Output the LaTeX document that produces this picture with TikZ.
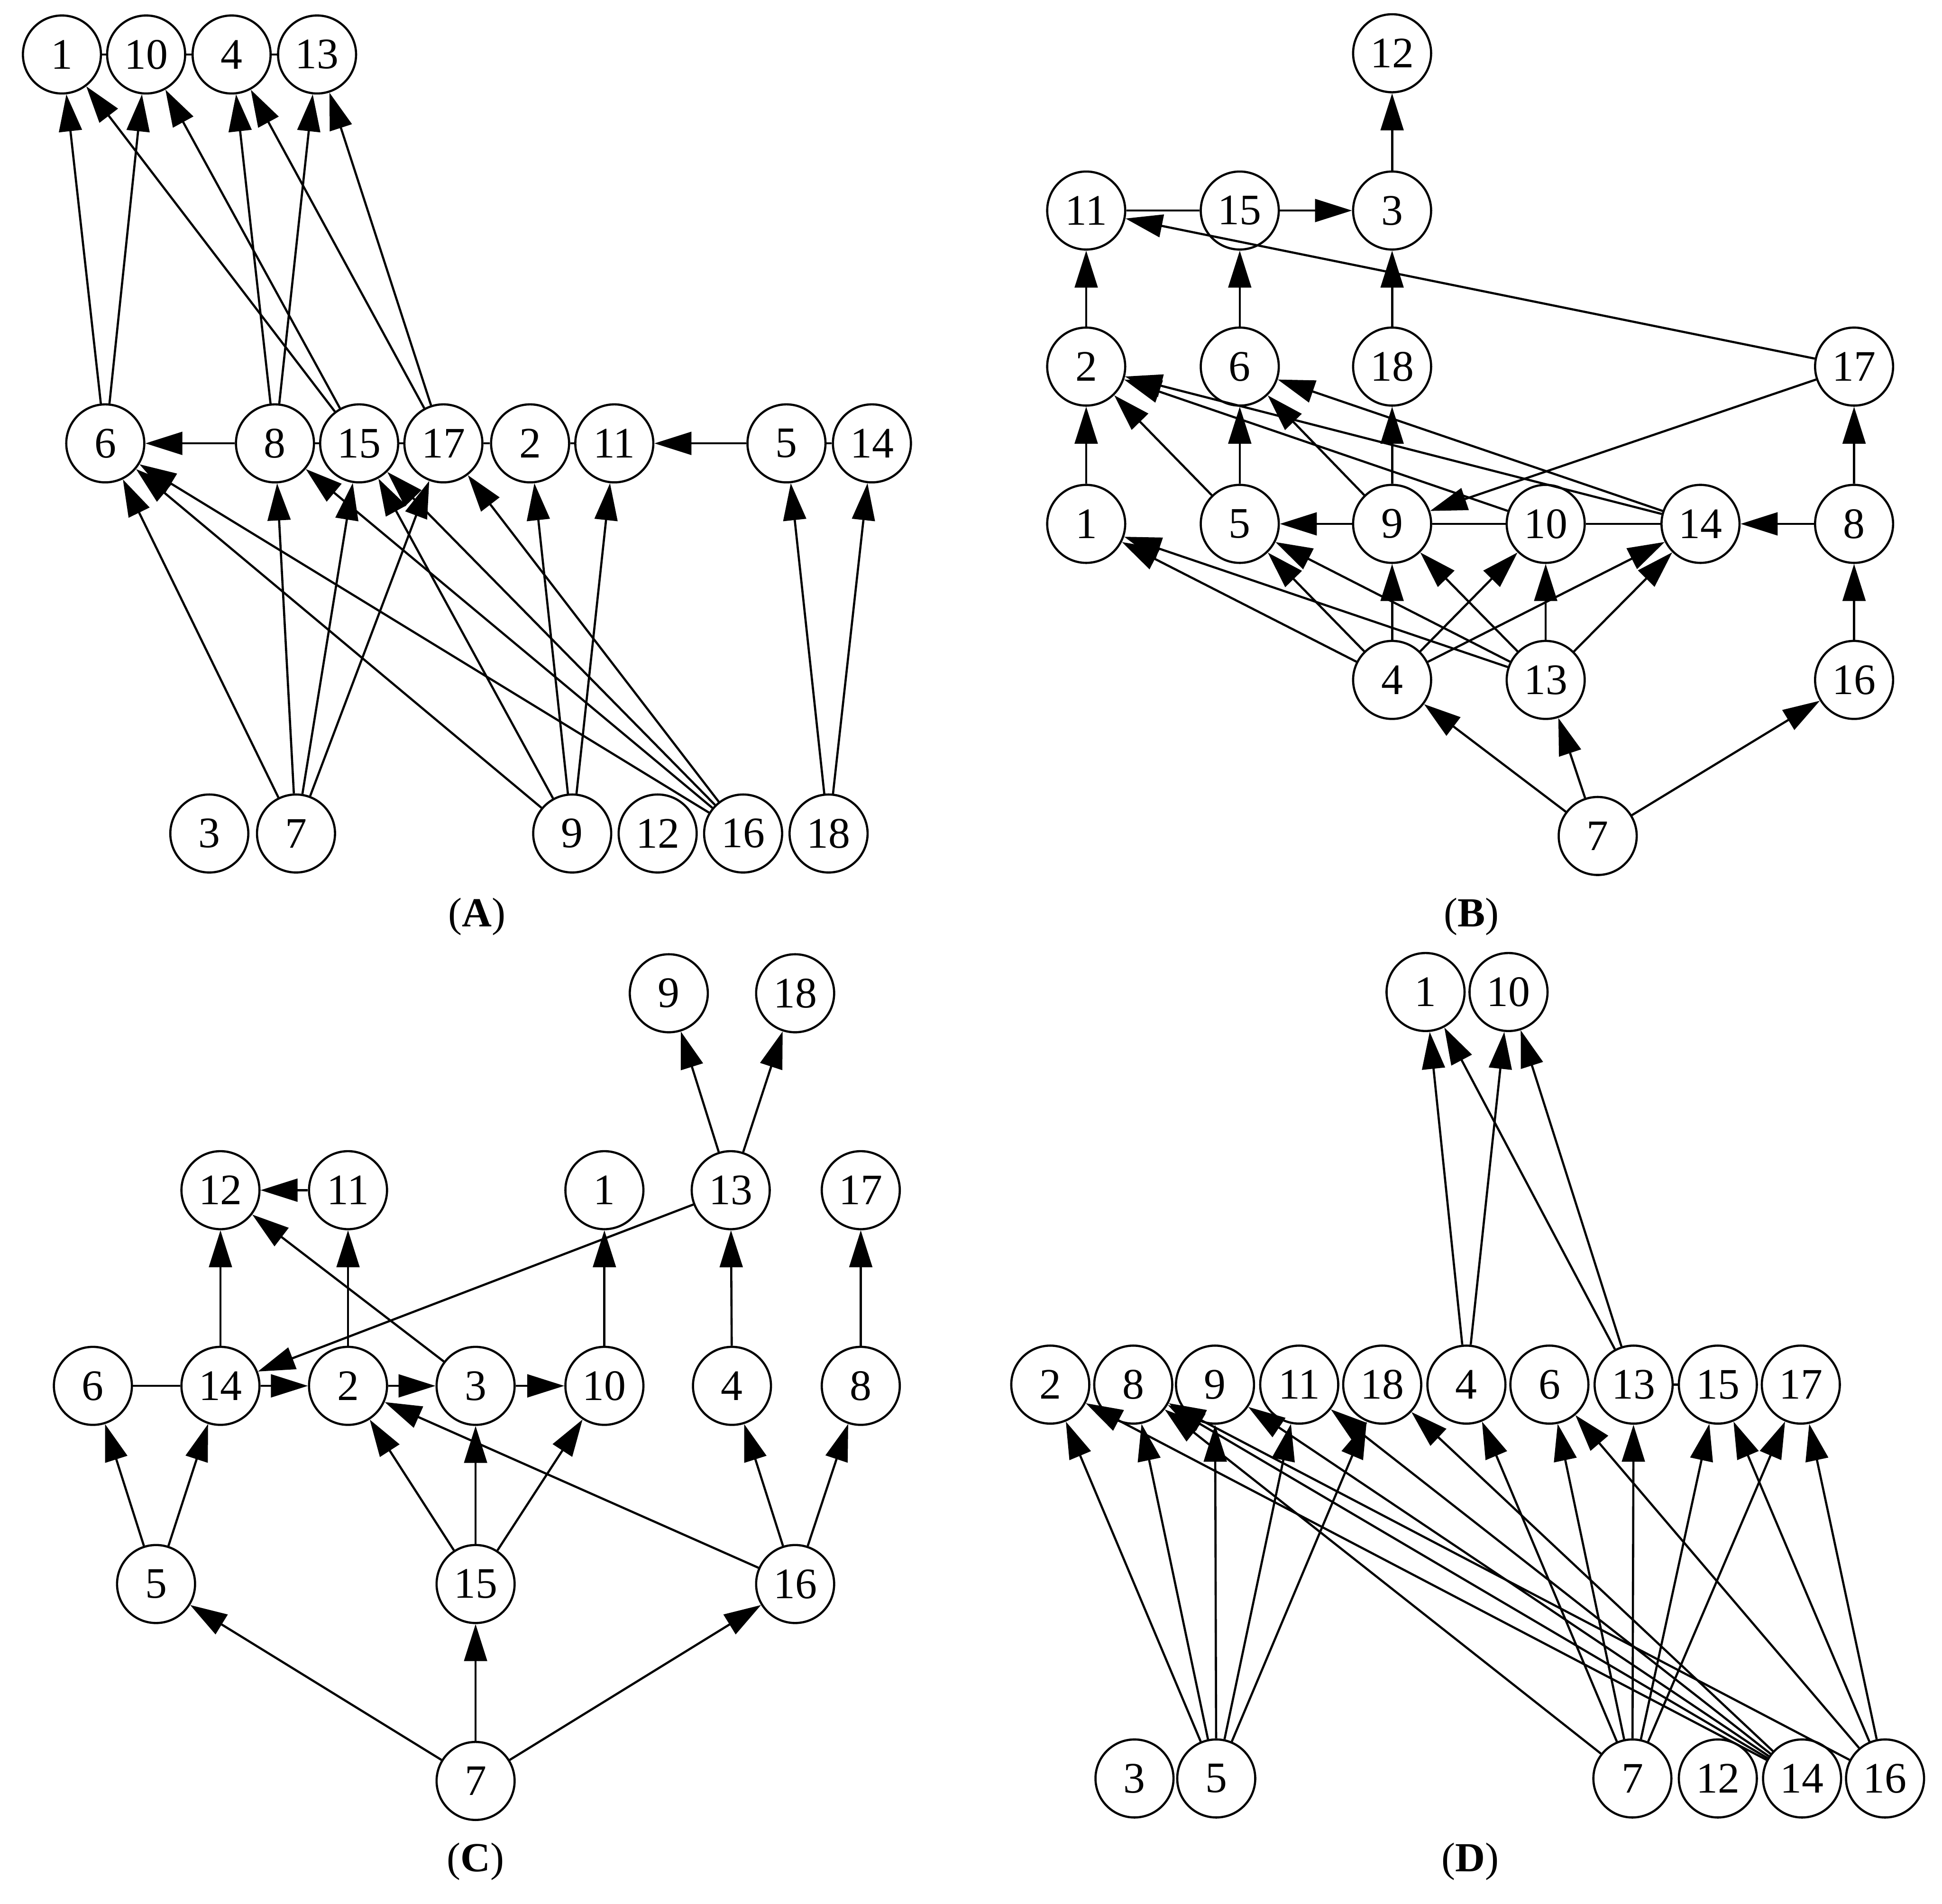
\documentclass[tikz,border=0pt]{standalone}
\usepackage{fontspec}
\setmainfont{Liberation Serif}
\usetikzlibrary{arrows.meta}

\begin{document}
\begin{tikzpicture}[x=0.02cm, y=-0.02cm, line width=1pt,
  >={Triangle[length=17pt,width=10.5pt]},
  vtx/.style={draw, circle, minimum size=1.26cm, inner sep=0pt, font=\fontsize{20}{24}\selectfont},
  paneltag/.style={font=\fontsize{19}{23}\selectfont}]
\useasboundingbox (0,0) rectangle (1568,1537);

% (A)
\node[vtx] (a1) at (50,44) {1};
\node[vtx] (a10) at (118,44) {10};
\node[vtx] (a4) at (187,44) {4};
\node[vtx] (a13) at (256,44) {13};
\node[vtx] (a6) at (85,358) {6};
\node[vtx] (a8) at (222,358) {8};
\node[vtx] (a15) at (290,358) {15};
\node[vtx] (a17) at (358,358) {17};
\node[vtx] (a2) at (428,358) {2};
\node[vtx] (a11) at (496,358) {11};
\node[vtx] (a5) at (635,358) {5};
\node[vtx] (a14) at (704,358) {14};
\node[vtx] (a3) at (169,673) {3};
\node[vtx] (a7) at (239,673) {7};
\node[vtx] (a9) at (462,673) {9};
\node[vtx] (a12) at (531,673) {12};
\node[vtx] (a16) at (600,673) {16};
\node[vtx] (a18) at (669,673) {18};
\node[paneltag] (tagA) at (385,740) {(\textbf{A})};

\draw (a1) -- (a10); \draw (a10) -- (a4); \draw (a4) -- (a13);
\draw (a8) -- (a15); \draw (a15) -- (a17); \draw (a17) -- (a2);
\draw (a2) -- (a11); \draw (a5) -- (a14);
\draw[->] (a6) -- (a1); \draw[->] (a6) -- (a10);
\draw[->] (a15) -- (a1); \draw[->] (a15) -- (a10);
\draw[->] (a8) -- (a4); \draw[->] (a8) -- (a13);
\draw[->] (a17) -- (a4); \draw[->] (a17) -- (a13);
\draw[->] (a8) -- (a6); \draw[->] (a5) -- (a11);
\draw[->] (a7) -- (a6); \draw[->] (a7) -- (a8);
\draw[->] (a7) -- (a15); \draw[->] (a7) -- (a17);
\draw[->] (a9) -- (a6); \draw[->] (a9) -- (a15);
\draw[->] (a9) -- (a2); \draw[->] (a9) -- (a11);
\draw[->] (a16) -- (a6); \draw[->] (a16) -- (a8);
\draw[->] (a16) -- (a15); \draw[->] (a16) -- (a17);
\draw[->] (a18) -- (a5); \draw[->] (a18) -- (a14);

% (B)
\node[vtx] (b12) at (1124,43) {12};
\node[vtx] (b11) at (877,170) {11};
\node[vtx] (b15) at (1001,170) {15};
\node[vtx] (b3) at (1124,170) {3};
\node[vtx] (b2) at (877,296) {2};
\node[vtx] (b6) at (1001,296) {6};
\node[vtx] (b18) at (1124,296) {18};
\node[vtx] (b17) at (1497,296) {17};
\node[vtx] (b1) at (877,423) {1};
\node[vtx] (b5) at (1001,423) {5};
\node[vtx] (b9) at (1124,423) {9};
\node[vtx] (b10) at (1248,423) {10};
\node[vtx] (b14) at (1373,423) {14};
\node[vtx] (b8) at (1497,423) {8};
\node[vtx] (b4) at (1124,549) {4};
\node[vtx] (b13) at (1248,549) {13};
\node[vtx] (b16) at (1497,549) {16};
\node[vtx] (b7) at (1290,675) {7};
\node[paneltag] (tagB) at (1188,740) {(\textbf{B})};

\draw (b11) -- (b15); \draw (b9) -- (b10); \draw (b10) -- (b14);
\draw[->] (b3) -- (b12); \draw[->] (b15) -- (b3);
\draw[->] (b17) -- (b11); \draw[->] (b2) -- (b11);
\draw[->] (b6) -- (b15); \draw[->] (b18) -- (b3);
\draw[->] (b1) -- (b2); \draw[->] (b5) -- (b2);
\draw[->] (b10) -- (b2); \draw[->] (b14) -- (b2);
\draw[->] (b5) -- (b6); \draw[->] (b9) -- (b6); \draw[->] (b14) -- (b6);
\draw[->] (b9) -- (b18); \draw[->] (b8) -- (b17);
\draw[->] (b17) -- (b9); \draw[->] (b9) -- (b5); \draw[->] (b8) -- (b14);
\draw[->] (b4) -- (b1); \draw[->] (b13) -- (b1);
\draw[->] (b4) -- (b5); \draw[->] (b13) -- (b5);
\draw[->] (b4) -- (b9); \draw[->] (b13) -- (b9);
\draw[->] (b4) -- (b10); \draw[->] (b13) -- (b10);
\draw[->] (b4) -- (b14); \draw[->] (b13) -- (b14);
\draw[->] (b16) -- (b8);
\draw[->] (b7) -- (b4); \draw[->] (b7) -- (b13); \draw[->] (b7) -- (b16);

% (C)
\node[vtx] (c9) at (540,802) {9};
\node[vtx] (c18) at (642,802) {18};
\node[vtx] (c12) at (178,961) {12};
\node[vtx] (c11) at (281,961) {11};
\node[vtx] (c1) at (488,961) {1};
\node[vtx] (c13) at (590,961) {13};
\node[vtx] (c17) at (695,961) {17};
\node[vtx] (c6) at (75,1119) {6};
\node[vtx] (c14) at (178,1119) {14};
\node[vtx] (c2) at (281,1119) {2};
\node[vtx] (c3) at (384,1119) {3};
\node[vtx] (c10) at (488,1119) {10};
\node[vtx] (c4) at (591,1119) {4};
\node[vtx] (c8) at (695,1119) {8};
\node[vtx] (c5) at (126,1279) {5};
\node[vtx] (c15) at (384,1279) {15};
\node[vtx] (c16) at (642,1279) {16};
\node[vtx] (c7) at (384,1438) {7};
\node[paneltag] (tagC) at (384,1503) {(\textbf{C})};

\draw (c6) -- (c14);
\draw[->] (c13) -- (c9); \draw[->] (c13) -- (c18);
\draw[->] (c11) -- (c12); \draw[->] (c14) -- (c12); \draw[->] (c3) -- (c12);
\draw[->] (c2) -- (c11); \draw[->] (c10) -- (c1);
\draw[->] (c4) -- (c13); \draw[->] (c8) -- (c17);
\draw[->] (c13) -- (c14);
\draw[->] (c14) -- (c2); \draw[->] (c2) -- (c3); \draw[->] (c3) -- (c10);
\draw[->] (c5) -- (c6); \draw[->] (c5) -- (c14);
\draw[->] (c15) -- (c2); \draw[->] (c15) -- (c3); \draw[->] (c15) -- (c10);
\draw[->] (c16) -- (c2); \draw[->] (c16) -- (c4); \draw[->] (c16) -- (c8);
\draw[->] (c7) -- (c5); \draw[->] (c7) -- (c15); \draw[->] (c7) -- (c16);

% (D)
\node[vtx] (d1) at (1151,801) {1};
\node[vtx] (d10) at (1218,801) {10};
\node[vtx] (d2) at (848,1118) {2};
\node[vtx] (d8) at (915,1118) {8};
\node[vtx] (d9) at (981,1118) {9};
\node[vtx] (d11) at (1049,1118) {11};
\node[vtx] (d18) at (1116,1118) {18};
\node[vtx] (d4) at (1184,1118) {4};
\node[vtx] (d6) at (1251,1118) {6};
\node[vtx] (d13) at (1319,1118) {13};
\node[vtx] (d15) at (1387,1118) {15};
\node[vtx] (d17) at (1454,1118) {17};
\node[vtx] (d3) at (916,1436) {3};
\node[vtx] (d5) at (982,1436) {5};
\node[vtx] (d7) at (1318,1436) {7};
\node[vtx] (d12) at (1387,1436) {12};
\node[vtx] (d14) at (1455,1436) {14};
\node[vtx] (d16) at (1522,1436) {16};
\node[paneltag] (tagD) at (1187,1503) {(\textbf{D})};

\draw (d13) -- (d15);
\draw[->] (d4) -- (d1); \draw[->] (d4) -- (d10);
\draw[->] (d13) -- (d1); \draw[->] (d13) -- (d10);
\draw[->] (d5) -- (d2); \draw[->] (d5) -- (d8); \draw[->] (d5) -- (d9);
\draw[->] (d5) -- (d11); \draw[->] (d5) -- (d18);
\draw[->] (d7) -- (d8); \draw[->] (d7) -- (d4); \draw[->] (d7) -- (d6);
\draw[->] (d7) -- (d13); \draw[->] (d7) -- (d15); \draw[->] (d7) -- (d17);
\draw[->] (d14) -- (d2); \draw[->] (d14) -- (d8); \draw[->] (d14) -- (d9);
\draw[->] (d14) -- (d11); \draw[->] (d14) -- (d18);
\draw[->] (d16) -- (d8); \draw[->] (d16) -- (d6);
\draw[->] (d16) -- (d15); \draw[->] (d16) -- (d17);
\end{tikzpicture}
\end{document}
